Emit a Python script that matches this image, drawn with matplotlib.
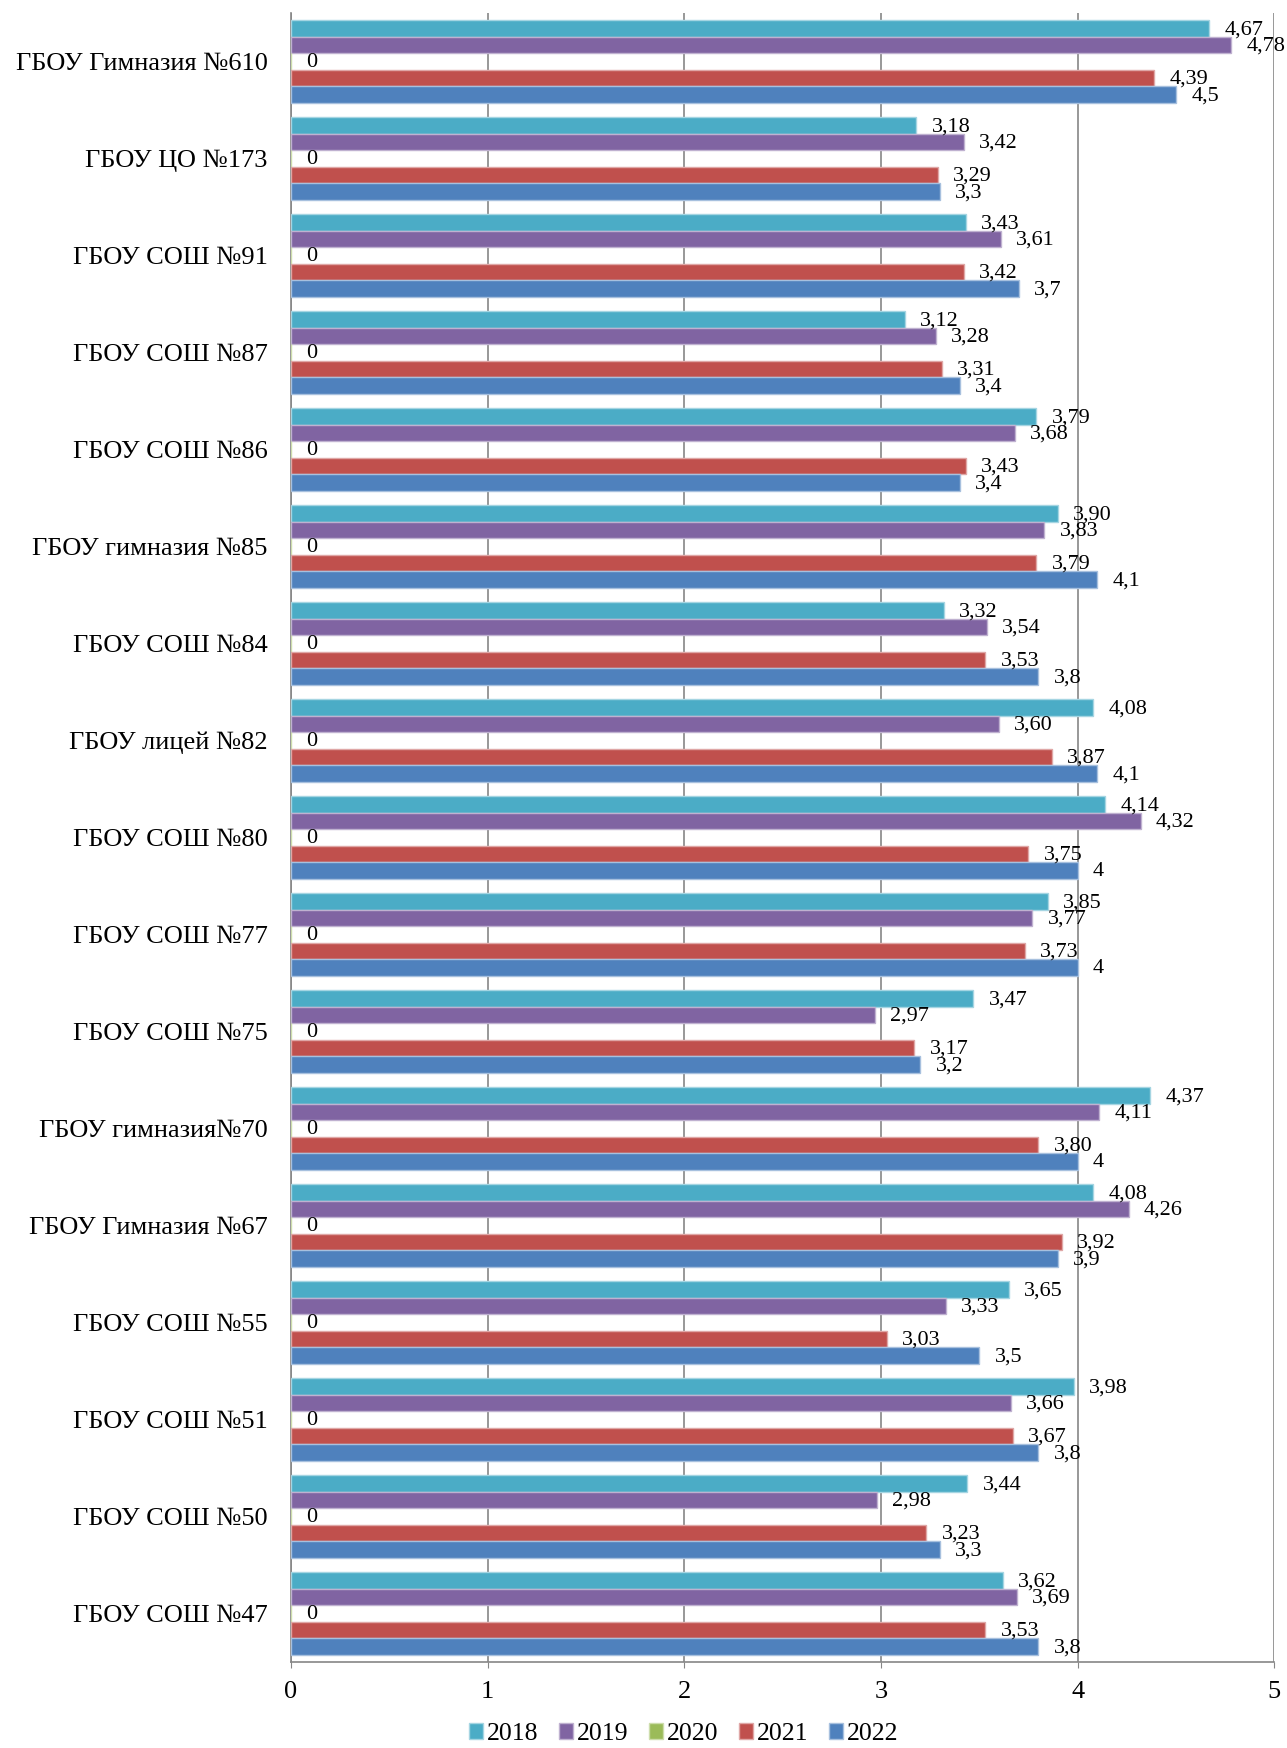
import matplotlib
matplotlib.use("Agg")
import matplotlib.pyplot as plt
import numpy as np

plt.rcParams['font.family'] = ['Liberation Serif', 'DejaVu Serif']

# schools, top to bottom as in the chart
schools = ["ГБОУ Гимназия №610", "ГБОУ ЦО №173", "ГБОУ СОШ №91", "ГБОУ СОШ №87",
           "ГБОУ СОШ №86", "ГБОУ гимназия №85", "ГБОУ СОШ №84", "ГБОУ лицей №82",
           "ГБОУ СОШ №80", "ГБОУ СОШ №77", "ГБОУ СОШ №75", "ГБОУ гимназия№70",
           "ГБОУ Гимназия №67", "ГБОУ СОШ №55", "ГБОУ СОШ №51", "ГБОУ СОШ №50",
           "ГБОУ СОШ №47"]

years = ["2018", "2019", "2020", "2021", "2022"]

v2018 = [4.67, 3.18, 3.43, 3.12, 3.79, 3.90, 3.32, 4.08, 4.14, 3.85, 3.47, 4.37, 4.08, 3.65, 3.98, 3.44, 3.62]
v2019 = [4.78, 3.42, 3.61, 3.28, 3.68, 3.83, 3.54, 3.60, 4.32, 3.77, 2.97, 4.11, 4.26, 3.33, 3.66, 2.98, 3.69]
v2020 = [0] * 17
v2021 = [4.39, 3.29, 3.42, 3.31, 3.43, 3.79, 3.53, 3.87, 3.75, 3.73, 3.17, 3.80, 3.92, 3.03, 3.67, 3.23, 3.53]
v2022 = [4.5, 3.3, 3.7, 3.4, 3.4, 4.1, 3.8, 4.1, 4, 4, 3.2, 4, 3.9, 3.5, 3.8, 3.3, 3.8]

series = [v2018, v2019, v2020, v2021, v2022]
colors = ["#4BACC6", "#8064A2", "#9BBB59", "#C0504D", "#4F81BD"]
edges = ["#A5D5E2", "#BFB1D0", "#CDDDAC", "#DFA7A6", "#A7C0DE"]


def fmt(v, year):
    if year == "2020":
        return "0"
    if year == "2022":
        s = ("%g" % v)
    else:
        s = "%.2f" % v
    return s.replace(".", ",")


fig = plt.figure(figsize=(12.87, 17.48), dpi=100)
ax = fig.add_axes([0.2261, 0.0492, 0.7640, 0.9434])

pos = np.arange(len(schools))
h = 0.17
for j, (vals, yr) in enumerate(zip(series, years)):
    y = pos + (j - 2) * h
    ax.barh(y, vals, height=h, color=colors[j], edgecolor=edges[j], linewidth=1, label=yr, zorder=3)
    for yy, v in zip(y, vals):
        ax.annotate(fmt(v, yr), (v, yy), xytext=(11, -1), textcoords="offset points",
                    va="center", ha="left", fontsize=16, zorder=4)

ax.set_xlim(0, 5)
ax.set_ylim(len(schools) - 0.5, -0.5)
ax.set_xticks([0, 1, 2, 3, 4, 5])
ax.set_xticklabels(["0", "1", "2", "3", "4", "5"], fontsize=19)
ax.set_yticks(pos)
ax.set_yticklabels(schools, fontsize=19)
ax.tick_params(axis="y", length=0, pad=17)
ax.tick_params(axis="x", length=4, color="#868686", pad=10, direction="out")
ax.xaxis.grid(True, color="#868686", linewidth=1.2, zorder=0)
ax.set_axisbelow(True)
for s in ["top", "right"]:
    ax.spines[s].set_visible(False)
ax.spines["left"].set_color("#868686")
ax.spines["bottom"].set_color("#868686")
ax.spines["left"].set_linewidth(1.2)
ax.spines["bottom"].set_linewidth(1.2)

fig.legend(*ax.get_legend_handles_labels(), loc="center", bbox_to_anchor=(0.531, 0.008),
           ncol=5, frameon=False, fontsize=18.5, handlelength=0.55, handleheight=0.55,
           handletextpad=0.15, columnspacing=0.8)

fig.savefig("out.png", dpi=100)
